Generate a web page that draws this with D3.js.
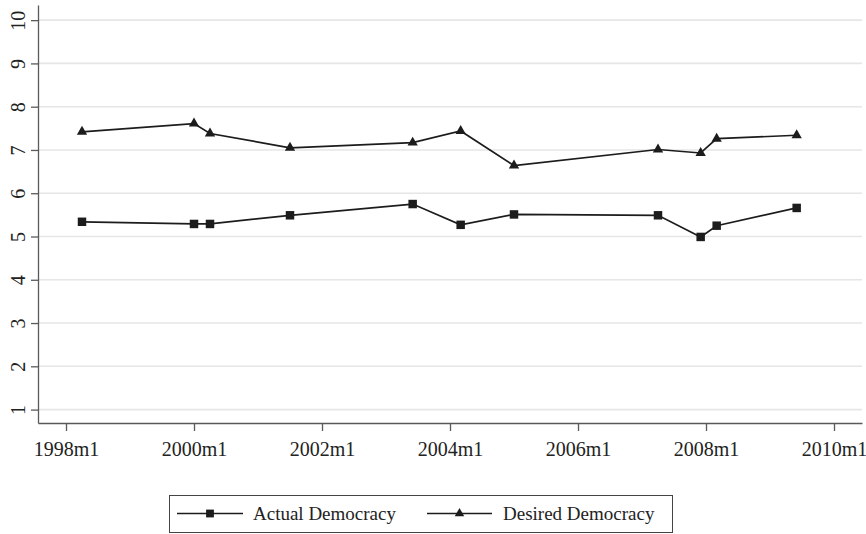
<!DOCTYPE html>
<html>
<head>
<meta charset="utf-8">
<script src="https://cdn.jsdelivr.net/npm/d3@7"></script>
<style>
  html, body { margin: 0; padding: 0; background: #fff; }
  svg { display: block; }
  svg text { font-family: "Liberation Serif", "Times New Roman", serif; }
</style>
</head>
<body>
<svg id="chart" width="866" height="534"></svg>
<script>
// Survey waves (monthly dates, Stata-style)
const waves = ["1998m4", "2000m1", "2000m4", "2001m7", "2003m6", "2004m3",
               "2005m1", "2007m4", "2007m12", "2008m3", "2009m6"];
const actualDemocracy  = [5.34, 5.29, 5.29, 5.49, 5.75, 5.27, 5.51, 5.49, 4.99, 5.25, 5.66];
const desiredDemocracy = [7.42, 7.61, 7.38, 7.05, 7.17, 7.44, 6.64, 7.01, 6.93, 7.26, 7.34];
const xTickLabels = ["1998m1", "2000m1", "2002m1", "2004m1", "2006m1", "2008m1", "2010m1"];
const yTicks = [1, 2, 3, 4, 5, 6, 7, 8, 9, 10];
const seriesNames = ["Actual Democracy", "Desired Democracy"];

// months since 1998m1
const monthIndex = s => {
  const [y, m] = s.split("m").map(Number);
  return (y - 1998) * 12 + (m - 1);
};

const svg = d3.select("#chart");
const plot = { left: 38, right: 862, top: 5, bottom: 423 };
const serif = '"Liberation Serif", "Times New Roman", serif';

const x = d3.scaleLinear().domain([-5.25, 149.25]).range([plot.left, plot.right]);
const y = d3.scaleLinear().domain([0.69, 10.35]).range([plot.bottom, plot.top]);

const ink = "#1c1c1c";
const axisColor = "#5a5a5a";

// horizontal grid
svg.append("g")
  .selectAll("line")
  .data(yTicks)
  .join("line")
  .attr("x1", plot.left).attr("x2", plot.right)
  .attr("y1", d => y(d)).attr("y2", d => y(d))
  .attr("stroke", "#e6e6e6")
  .attr("stroke-width", 1.6);

// y axis
const yAxis = svg.append("g")
  .attr("transform", `translate(${plot.left},0)`)
  .call(d3.axisLeft(y).tickValues(yTicks).tickSize(7).tickSizeOuter(0).tickFormat(d3.format("d")));
yAxis.selectAll("text")
  .attr("x", null).attr("dy", null)
  .attr("transform", "translate(-13,0) rotate(-90)")
  .attr("text-anchor", "middle");

// x axis
const xAxis = svg.append("g")
  .attr("transform", `translate(0,${plot.bottom})`)
  .call(d3.axisBottom(x)
    .tickValues(xTickLabels.map(monthIndex))
    .tickSize(8).tickSizeOuter(0)
    .tickFormat((d, i) => xTickLabels[i]));
xAxis.selectAll("text")
  .attr("y", 33).attr("dy", null);

[yAxis, xAxis].forEach(g => {
  g.attr("font-family", serif).attr("font-size", 20);
  g.selectAll("text").attr("fill", "#222");
  g.select(".domain").attr("stroke", axisColor).attr("stroke-width", 1.3);
  g.selectAll(".tick line").attr("stroke", axisColor).attr("stroke-width", 1.3);
});

// series
const series = [
  { name: seriesNames[0], values: actualDemocracy, symbol: d3.symbolSquare, size: 72 },
  { name: seriesNames[1], values: desiredDemocracy, symbol: d3.symbolTriangle, size: 46 }
];

const line = d3.line()
  .x(d => x(monthIndex(d.date)))
  .y(d => y(d.value));

series.forEach(s => {
  const pts = waves.map((w, i) => ({ date: w, value: s.values[i] }));
  svg.append("path")
    .datum(pts)
    .attr("d", line)
    .attr("fill", "none")
    .attr("stroke", ink)
    .attr("stroke-width", 1.7);
  svg.append("g")
    .selectAll("path")
    .data(pts)
    .join("path")
    .attr("transform", d => `translate(${x(monthIndex(d.date))},${y(d.value)})`)
    .attr("d", d3.symbol().type(s.symbol).size(s.size))
    .attr("fill", ink);
});

// legend
const legend = svg.append("g");
legend.append("rect")
  .attr("x", 169.5).attr("y", 495.5)
  .attr("width", 503).attr("height", 37)
  .attr("fill", "#fff")
  .attr("stroke", "#444")
  .attr("stroke-width", 1);

const legendItems = [
  { x0: 177, x1: 243, tx: 253 },
  { x0: 427, x1: 492, tx: 503 }
];
series.forEach((s, i) => {
  const it = legendItems[i];
  const ly = 513.5;
  legend.append("line")
    .attr("x1", it.x0).attr("x2", it.x1)
    .attr("y1", ly).attr("y2", ly)
    .attr("stroke", ink).attr("stroke-width", 1.7);
  legend.append("path")
    .attr("transform", `translate(${(it.x0 + it.x1) / 2},${ly})`)
    .attr("d", d3.symbol().type(s.symbol).size(s.size * 0.85))
    .attr("fill", ink);
  legend.append("text")
    .attr("x", it.tx).attr("y", 520)
    .attr("fill", "#222")
    .attr("font-family", serif)
    .attr("font-size", 19)
    .text(s.name);
});
</script>
</body>
</html>
